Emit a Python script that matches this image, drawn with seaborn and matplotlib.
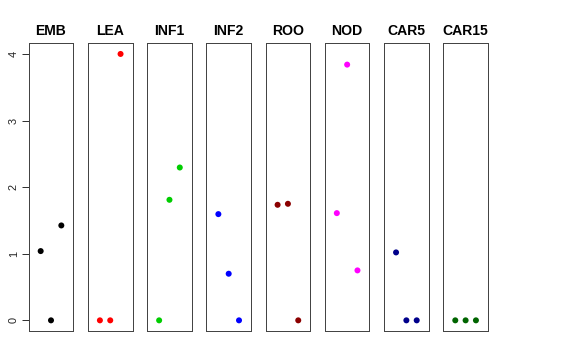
import numpy as np
import pandas as pd
from matplotlib import pyplot as plt
import seaborn as sns

tissues = ['EMB', 'LEA', 'INF1', 'INF2', 'ROO', 'NOD', 'CAR5', 'CAR15']
colors = ['black', 'red', '#00CD00', 'blue', '#8B0000', 'magenta', '#00008B', '#006400']
reps = [1, 2, 3]
emb = [1.04, 0.0, 1.425]
lea = [0.0, 0.0, 4.0]
inf1 = [0.0, 1.81, 2.295]
inf2 = [1.595, 0.70, 0.0]
roo = [1.735, 1.75, 0.0]
nod = [1.61, 3.84, 0.75]
car5 = [1.02, 0.0, 0.0]
car15 = [0.0, 0.0, 0.0]

values = [emb, lea, inf1, inf2, roo, nod, car5, car15]
df = pd.DataFrame({
    'tissue': np.repeat(tissues, 3),
    'rep': reps * len(tissues),
    'value': np.concatenate(values),
})

sns.set_style('white')
plt.rcParams['font.family'] = ['Liberation Sans', 'DejaVu Sans']

fig = plt.figure(figsize=(8, 5), dpi=72)
W, H = 576, 360
left0, step, pw = 28.7, 59.23, 44.6
top, bottom = 43.3, 331

for i, (t, c) in enumerate(zip(tissues, colors)):
    ax = fig.add_axes([(left0 + i * step) / W, (H - bottom) / H, pw / W, (bottom - top) / H])
    sub = df[df['tissue'] == t]
    sns.scatterplot(data=sub, x='rep', y='value', color=c, s=36, edgecolor='none', ax=ax, legend=False)
    ax.set_xlim(-0.16, 4.16)
    ax.set_ylim(-0.16, 4.16)
    ax.set_xticks([])
    ax.set_xlabel('')
    ax.set_ylabel('')
    ax.set_title(t, fontsize=14, fontweight='bold', pad=8, color='black')
    for sp in ax.spines.values():
        sp.set_visible(True)
        sp.set_color('#444444')
        sp.set_linewidth(1.0)
    if i == 0:
        ax.set_yticks([0, 1, 2, 3, 4])
        ax.set_yticklabels(['0', '1', '2', '3', '4'], rotation=90, va='center')
        ax.tick_params(axis='y', left=True, length=7, width=0.8, color='black',
                       pad=3, labelsize=11, labelcolor='#222222')
    else:
        ax.set_yticks([])

fig.savefig('out.png', dpi=72)
